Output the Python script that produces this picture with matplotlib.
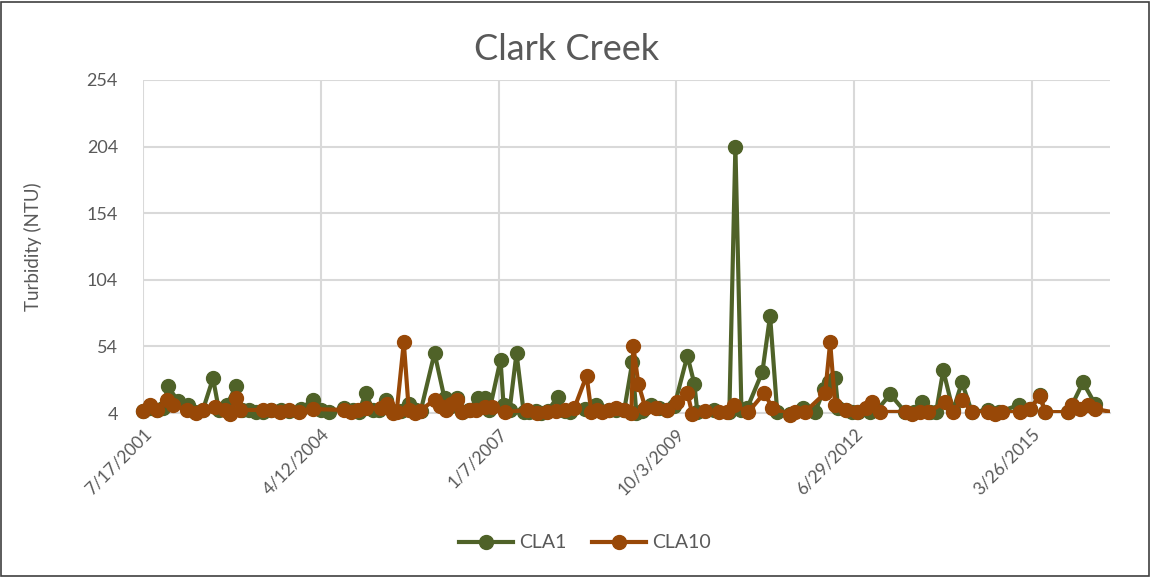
import matplotlib.pyplot as plt
import pandas as pd
from matplotlib.lines import Line2D
from matplotlib.patches import Rectangle

# sample dates and turbidity readings, station CLA1
cla1_dates = [
    "2001-07-17", "2001-08-25", "2001-10-04", "2001-11-06", "2001-12-05", "2002-01-30",
    "2002-03-27", "2002-05-05", "2002-06-19", "2002-08-15", "2002-09-17", "2002-11-01",
    "2002-12-21", "2003-01-24", "2003-03-04", "2003-04-12", "2003-05-22", "2003-07-06",
    "2003-08-31", "2003-10-15", "2003-12-21", "2004-02-27", "2004-04-12", "2004-05-27",
    "2004-08-19", "2004-10-09", "2004-11-12", "2004-12-21", "2005-01-30", "2005-03-04",
    "2005-04-13", "2005-05-22", "2005-07-06", "2005-08-20", "2005-09-28", "2005-10-26",
    "2006-01-12", "2006-03-09", "2006-04-12", "2006-05-16", "2006-06-18", "2006-07-22",
    "2006-09-11", "2006-10-20", "2006-11-17", "2007-01-18", "2007-02-04", "2007-03-10",
    "2007-04-18", "2007-05-28", "2007-06-30", "2007-08-03", "2007-08-31", "2007-10-10",
    "2007-12-05", "2008-01-13", "2008-02-10", "2008-05-05", "2008-07-10", "2008-08-07",
    "2008-09-21", "2008-10-30", "2008-12-14", "2009-01-28", "2009-02-20", "2009-03-26",
    "2009-05-15", "2009-06-29", "2009-08-13", "2009-09-22", "2009-12-04", "2010-01-12",
    "2010-01-29", "2010-05-05", "2010-07-28", "2010-08-31", "2010-10-04", "2010-11-06",
    "2011-01-30", "2011-03-14", "2011-04-23", "2011-07-05", "2011-09-16", "2011-11-23",
    "2012-01-12", "2012-02-09", "2012-03-14", "2012-03-31", "2012-05-15", "2012-06-18",
    "2012-07-21", "2012-09-27", "2012-11-05", "2013-01-18", "2013-04-12", "2013-06-02",
    "2013-07-17", "2013-08-31", "2013-10-03", "2013-11-12", "2014-01-06", "2014-02-25",
    "2014-04-22", "2014-07-21", "2014-09-21", "2015-01-12", "2015-03-15", "2015-05-10",
    "2015-06-07", "2015-10-15", "2015-11-06", "2016-01-07", "2016-03-14",
]
cla1_ntu = [
    5.5, 7.8, 6, 8, 24, 13,
    10, 4.8, 6.3, 30, 6.5, 10,
    24, 6.5, 6.3, 5, 4.5, 6,
    6, 5.5, 7, 14, 6.3, 5,
    7.5, 6.5, 4.8, 19, 6.3, 6,
    14, 5.5, 5.5, 11, 6.3, 5.5,
    49, 15, 9, 15, 5, 6,
    15, 15, 6, 44, 10, 6,
    49, 4.8, 4.8, 5.5, 4, 5.5,
    16, 5.5, 4.8, 7, 10, 5.5,
    6.3, 6.3, 6.3, 42, 4, 5.5,
    10, 7.8, 6.3, 9.3, 47, 26,
    4.8, 6, 4.8, 204, 6.3, 7.8,
    35, 77, 5, 3.5, 7.8, 4.8,
    22, 27, 30, 8, 6.3, 4.8,
    4.8, 4.8, 6.3, 18, 4.8, 4.8,
    12, 4.8, 4.8, 36, 6, 27,
    4.8, 6.3, 4.8, 10, 7, 17.5,
    4.8, 4.5, 10, 27, 11,
]

# sample dates and turbidity readings, station CLA10
cla10_dates = [
    "2001-07-17", "2001-08-25", "2001-10-04", "2001-11-29", "2002-01-02", "2002-03-22",
    "2002-05-11", "2002-06-19", "2002-08-26", "2002-10-21", "2002-11-18", "2002-12-21",
    "2003-01-12", "2003-05-22", "2003-07-06", "2003-08-25", "2003-10-15", "2003-12-10",
    "2004-02-27", "2004-08-19", "2004-09-28", "2004-11-06", "2004-12-21", "2005-03-16",
    "2005-04-18", "2005-05-22", "2005-06-13", "2005-07-23", "2005-08-20", "2005-09-22",
    "2005-10-21", "2006-01-12", "2006-02-09", "2006-03-15", "2006-04-12", "2006-05-16",
    "2006-06-18", "2006-07-28", "2006-08-31", "2006-10-20", "2006-11-29", "2007-02-10",
    "2007-06-14", "2007-08-09", "2007-10-04", "2007-11-24", "2008-01-13", "2008-03-09",
    "2008-05-16", "2008-06-12", "2008-07-16", "2008-08-13", "2008-09-21", "2008-10-30",
    "2008-12-14", "2009-01-23", "2009-02-03", "2009-03-03", "2009-04-12", "2009-06-12",
    "2009-08-13", "2009-10-09", "2009-12-04", "2010-01-01", "2010-03-15", "2010-06-02",
    "2010-07-17", "2010-08-25", "2010-11-12", "2011-02-10", "2011-03-26", "2011-07-05",
    "2011-08-02", "2011-09-27", "2012-01-18", "2012-02-15", "2012-03-14", "2012-05-15",
    "2012-07-16", "2012-09-05", "2012-10-08", "2012-11-22", "2013-04-18", "2013-05-21",
    "2013-07-05", "2013-08-19", "2013-11-22", "2014-01-06", "2014-02-25", "2014-04-22",
    "2014-07-21", "2014-08-30", "2014-10-08", "2015-01-17", "2015-03-15", "2015-05-10",
    "2015-06-07", "2015-10-15", "2015-11-06", "2015-12-21", "2016-02-04", "2016-03-14",
    "2016-07-20",
]
cla10_ntu = [
    5.5, 10, 6.3, 14, 10, 6.3,
    4, 6.3, 8.5, 6.3, 3.5, 15,
    6.3, 6.3, 6.3, 5, 6, 4.8,
    7, 6.3, 4.8, 6.3, 8, 7.5,
    11, 4, 4.8, 57, 6.3, 4,
    5.5, 14, 9, 6.3, 11, 14,
    4.8, 6.3, 6.3, 8.5, 8.5, 4.5,
    6.3, 4, 4.8, 5.5, 6.3, 8,
    32, 4.8, 6.3, 4.8, 6.3, 8,
    6.3, 4, 54, 26, 7.8, 7.8,
    6.3, 12, 19, 3, 5.5, 4.8,
    4.8, 10, 4.8, 19, 8, 2.5,
    4.8, 4.8, 19, 57, 10, 6.3,
    4.8, 7.8, 12, 4.8, 4.8, 3.2,
    4.8, 4.8, 12, 4.8, 14, 4.8,
    5, 3.2, 4.8, 4.8, 7, 17,
    4.8, 4.5, 10, 7, 10, 7,
    4,
]

y_ticks = [4, 54, 104, 154, 204, 254]
x_start = "2001-07-17"
x_end = "2016-06-07"

green = "#4f6228"
orange = "#984807"
text_gray = "#595959"
grid_gray = "#d9d9d9"

plt.rcParams["font.family"] = ["Lato", "DejaVu Sans"]

fig = plt.figure(figsize=(11.51, 5.77), dpi=100)
ax = fig.add_axes([0.1242, 0.2842, 0.8402, 0.5772])

x_lo, x_hi = pd.Timestamp(x_start), pd.Timestamp(x_end)
series = [("CLA1", cla1_dates, cla1_ntu, green), ("CLA10", cla10_dates, cla10_ntu, orange)]
handles = []
for z, (name, dates, ntu, color) in enumerate(series):
    d = pd.Series(pd.to_datetime(dates))
    v = pd.Series(ntu)
    inside = (d >= x_lo) & (d <= x_hi)
    # the line is cut at the plot edge, markers may hang over the baseline
    ax.plot(d, v, color=color, lw=3, zorder=3 + 2 * z)
    ax.plot(d[inside], v[inside], ls="none", marker="o", ms=10, color=color,
            clip_on=False, zorder=4 + 2 * z)
    handles.append(Line2D([], [], color=color, lw=3, marker="o", ms=10, label=name))

ax.set_ylim(4, 254)
ax.set_yticks(y_ticks)
ax.set_xlim(x_lo, x_hi)

# ticks every 1000 days from the first sample
tick_dates = pd.date_range(x_start, x_end, freq="1000D")
ax.set_xticks(tick_dates)
ax.set_xticklabels([f"{d.month}/{d.day}/{d.year}" for d in tick_dates],
                   rotation=45, ha="right", rotation_mode="anchor")

ax.grid(True, color=grid_gray, lw=1.5)
ax.set_axisbelow(True)
for side in ["top", "right", "left"]:
    ax.spines[side].set_visible(False)
ax.spines["bottom"].set_color(grid_gray)
ax.spines["bottom"].set_linewidth(1.5)
ax.tick_params(axis="y", length=0, labelsize=13, colors=text_gray, pad=18)
ax.tick_params(axis="x", length=0, labelsize=12.5, colors=text_gray, pad=9)

ax.set_ylabel("Turbidity (NTU)", fontsize=13.5, color=text_gray)
ax.yaxis.set_label_coords(-0.104, 0.5)
fig.text(0.492, 0.915, "Clark Creek", ha="center", va="center",
         fontsize=26, color=text_gray)

fig.legend(handles=handles, loc="center", bbox_to_anchor=(0.508, 0.059), ncol=2,
           frameon=False, fontsize=14, labelcolor=text_gray, handlelength=2.8,
           columnspacing=1.3, handletextpad=0.3)

# chart area border
fig.patches.append(Rectangle((0.001, 0.002), 0.997, 0.995, transform=fig.transFigure,
                             fill=False, edgecolor="#404040", lw=1.2))

fig.savefig("out.png", dpi=100)
